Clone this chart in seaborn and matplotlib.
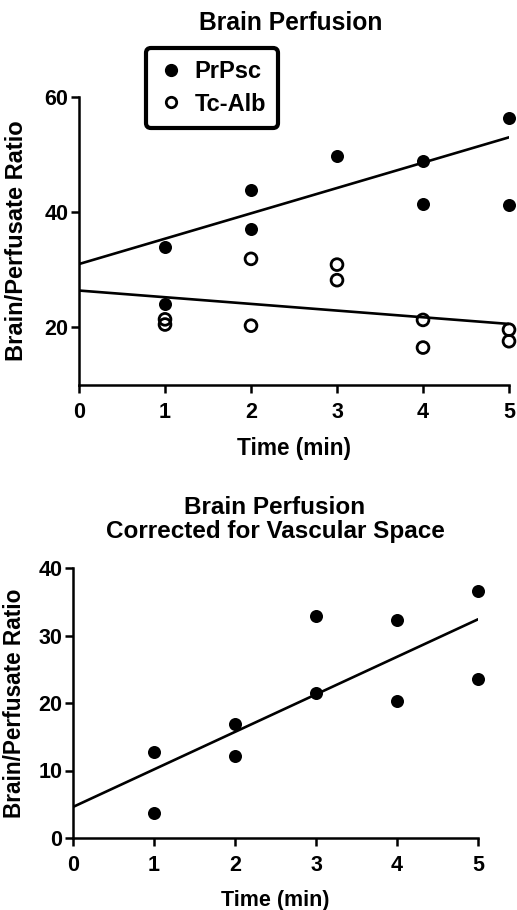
import matplotlib
matplotlib.use("Agg")
import matplotlib.pyplot as plt
from matplotlib.lines import Line2D
import seaborn as sns
import numpy as np

# ---------------- data ----------------
# Top panel: Brain Perfusion
prpsc_time = [1, 1, 2, 2, 3, 4, 4, 5, 5]
prpsc_ratio = [33.9, 24.0, 43.9, 37.1, 49.8, 48.9, 41.5, 56.3, 41.2]
tcalb_time = [1, 1, 2, 2, 3, 3, 4, 4, 5, 5]
tcalb_ratio = [21.4, 20.5, 31.9, 20.3, 30.9, 28.2, 21.3, 16.5, 19.6, 17.6]
fit_time = [0, 5]
prpsc_fit = [31.0, 53.0]
tcalb_fit = [26.4, 20.6]

# Bottom panel: corrected for vascular space
corr_time = [1, 1, 2, 2, 3, 3, 4, 4, 5, 5]
corr_ratio = [12.7, 3.7, 16.9, 12.1, 32.9, 21.5, 32.3, 20.3, 36.6, 23.6]
corr_fit = [4.6, 32.4]

top_title = "Brain Perfusion"
bottom_title = "Brain Perfusion\nCorrected for Vascular Space"
xlabel = "Time (min)"
ylabel = "Brain/Perfusate Ratio"
series_names = ["PrPsc", "Tc-Alb"]
x_ticks = [0, 1, 2, 3, 4, 5]
top_y_ticks = [20, 40, 60]
bottom_y_ticks = [0, 10, 20, 30, 40]

# ---------------- style ----------------
sns.set_style("ticks")
plt.rcParams["font.family"] = ["Liberation Sans", "DejaVu Sans"]
plt.rcParams["font.weight"] = "bold"
for key in ["text.color", "axes.labelcolor", "xtick.color", "ytick.color",
            "axes.edgecolor"]:
    plt.rcParams[key] = "black"

W, H = 517, 910
fig = plt.figure(figsize=(W / 100, H / 100), dpi=100)


def px_axes(left, top, right, bottom):
    return fig.add_axes([left / W, 1 - bottom / H, (right - left) / W, (bottom - top) / H])


def style_axes(ax, tick_fs):
    for s in ["top", "right"]:
        ax.spines[s].set_visible(False)
    for s in ["left", "bottom"]:
        ax.spines[s].set_linewidth(1.8)
        ax.spines[s].set_color("black")
    ax.tick_params(axis="both", direction="out", length=6.0, width=1.8,
                   labelsize=tick_fs, color="black", labelcolor="black")
    ax.tick_params(axis="x", pad=6.5)
    ax.tick_params(axis="y", pad=1.8)
    for lab in ax.get_xticklabels() + ax.get_yticklabels():
        lab.set_fontweight("bold")


MS = 88
LW = 1.9

# ---------- top panel ----------
ax1 = px_axes(79, 97, 509, 385)
sns.scatterplot(x=prpsc_time, y=prpsc_ratio, ax=ax1, color="black", s=MS,
                edgecolor="black", linewidth=0, clip_on=False, zorder=3)
sns.scatterplot(x=tcalb_time, y=tcalb_ratio, ax=ax1, marker="o", s=72,
                facecolors="none", edgecolor="black", linewidth=2.0,
                clip_on=False, zorder=3)
sns.lineplot(x=fit_time, y=prpsc_fit, ax=ax1, color="black", linewidth=LW)
sns.lineplot(x=fit_time, y=tcalb_fit, ax=ax1, color="black", linewidth=LW)
ax1.set_xlim(0, 5)
ax1.set_ylim(10, 60)
ax1.set_xticks(x_ticks)
ax1.set_yticks(top_y_ticks)
style_axes(ax1, 15.5)
ax1.set_xlabel(xlabel, fontsize=16.3, fontweight="bold")
ax1.set_ylabel(ylabel, fontsize=17, fontweight="bold")
ax1.xaxis.set_label_coords(0.5, (384 - 436) / 288)
ax1.yaxis.set_label_coords((28 - 79) / 430, 0.5)
fig.text(291 / W, 1 - 23 / H, top_title, ha="center", va="center",
         fontsize=17.7, fontweight="bold")

handles = [
    Line2D([], [], linestyle="none", marker="o", markersize=8.5,
           markerfacecolor="black", markeredgecolor="black"),
    Line2D([], [], linestyle="none", marker="o", markersize=7.5,
           markerfacecolor="none", markeredgecolor="black", markeredgewidth=2.0),
]
leg = ax1.legend(handles, series_names, loc="upper left",
                 bbox_to_anchor=(146 / W, 1 - 48 / H), bbox_transform=fig.transFigure,
                 borderaxespad=0, frameon=True, fancybox=True,
                 prop={"size": 17, "weight": "bold"},
                 handlelength=1.1, handletextpad=0.45, borderpad=0.5,
                 labelspacing=0.42)
frame = leg.get_frame()
frame.set_edgecolor("black")
frame.set_linewidth(3.0)
frame.set_facecolor("white")
frame.set_alpha(1)
for t in leg.get_texts():
    t.set_color("black")

# ---------- bottom panel ----------
ax2 = px_axes(73, 568, 478, 838)
sns.scatterplot(x=corr_time, y=corr_ratio, ax=ax2, color="black", s=MS,
                edgecolor="black", linewidth=0, clip_on=False, zorder=3)
sns.lineplot(x=fit_time, y=corr_fit, ax=ax2, color="black", linewidth=LW)
ax2.set_xlim(0, 5)
ax2.set_ylim(0, 40)
ax2.set_xticks(x_ticks)
ax2.set_yticks(bottom_y_ticks)
style_axes(ax2, 15.5)
ax2.set_xlabel(xlabel, fontsize=15.5, fontweight="bold")
ax2.set_ylabel(ylabel, fontsize=16.3, fontweight="bold")
ax2.xaxis.set_label_coords(0.5, (838 - 890) / 270)
ax2.yaxis.set_label_coords((26 - 73) / 405, 0.5)
fig.text(275 / W, 1 - 519.5 / H, bottom_title, ha="center", va="center",
         fontsize=17.5, fontweight="bold", linespacing=1.1)

fig.savefig("out.png", dpi=100, facecolor="white")
